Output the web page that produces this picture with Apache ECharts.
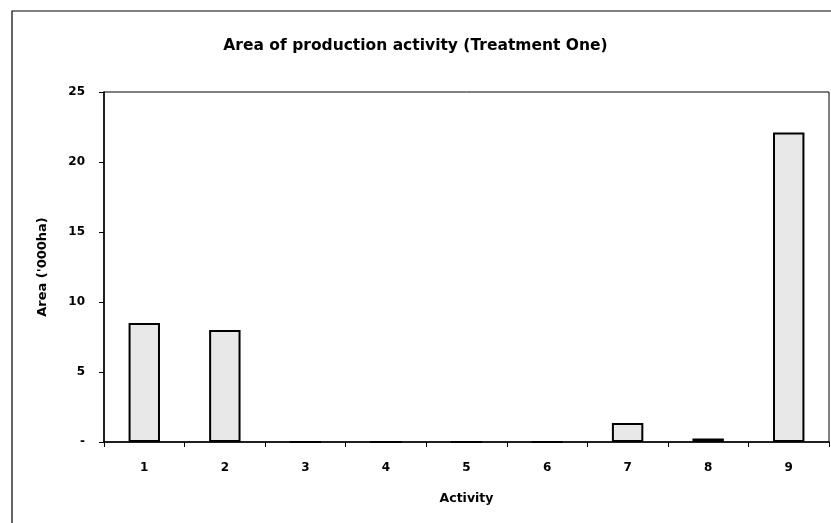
<!DOCTYPE html>
<html>
<head>
<meta charset="utf-8">
<script src="https://cdn.jsdelivr.net/npm/echarts@6/dist/echarts.min.js"></script>
<style>
  html, body { margin: 0; padding: 0; background: #fff; }
  #chart { width: 831px; height: 523px; }
</style>
</head>
<body>
<div id="chart"></div>
<script>
// Activities and the area each one occupies ('000 ha)
const activities = ['1', '2', '3', '4', '5', '6', '7', '8', '9'];
const areaValues = [8.5, 8.0, 0, 0, 0, 0, 1.35, 0.25, 22.1];
const yTicks = [0, 5, 10, 15, 20, 25];

const FONT = '"DejaVu Sans", "Liberation Sans", Arial, sans-serif';

const chart = echarts.init(document.getElementById('chart'), null, { renderer: 'canvas' });

chart.setOption({
  animation: false,
  backgroundColor: '#fff',
  title: {
    text: 'Area of production activity (Treatment One)',
    left: 'center',
    top: 33,
    textStyle: { fontFamily: FONT, fontSize: 15.5, fontWeight: 'bold', color: '#000' }
  },
  graphic: [{
    type: 'rect',
    shape: { x: 12, y: 11, width: 840, height: 540 },
    style: { fill: 'none', stroke: '#000', lineWidth: 1.2 },
    silent: true
  }],
  grid: {
    left: 104, right: 2, top: 92, bottom: 81,
    show: true, borderColor: '#000', borderWidth: 1, backgroundColor: 'transparent'
  },
  xAxis: {
    type: 'category',
    data: activities,
    name: 'Activity',
    nameLocation: 'middle',
    nameGap: 50,
    nameTextStyle: { fontFamily: FONT, fontSize: 12.5, fontWeight: 'bold', color: '#000' },
    axisLine: { lineStyle: { color: '#000', width: 1.5 } },
    axisTick: { show: true, length: 5, lineStyle: { color: '#000' } },
    axisLabel: { fontFamily: FONT, fontSize: 12, fontWeight: 'bold', color: '#000', margin: 20 }
  },
  yAxis: {
    type: 'value',
    min: yTicks[0],
    max: yTicks[yTicks.length - 1],
    interval: 5,
    name: "Area ('000ha)",
    nameLocation: 'middle',
    nameGap: 55,
    nameTextStyle: { fontFamily: FONT, fontSize: 13, fontWeight: 'bold', color: '#000' },
    axisLine: { show: true, lineStyle: { color: '#000', width: 1.5 } },
    axisTick: { show: true, length: 5, lineStyle: { color: '#000' } },
    axisLabel: {
      fontFamily: FONT, fontSize: 12, fontWeight: 'bold', color: '#000', margin: 19,
      formatter: v => (v === 0 ? '-' : String(v))
    },
    splitLine: { show: false }
  },
  series: [{
    type: 'bar',
    data: areaValues,
    barWidth: '39%',
    itemStyle: { color: '#e8e8e8', borderColor: '#000', borderWidth: 2 }
  }]
});
</script>
</body>
</html>
